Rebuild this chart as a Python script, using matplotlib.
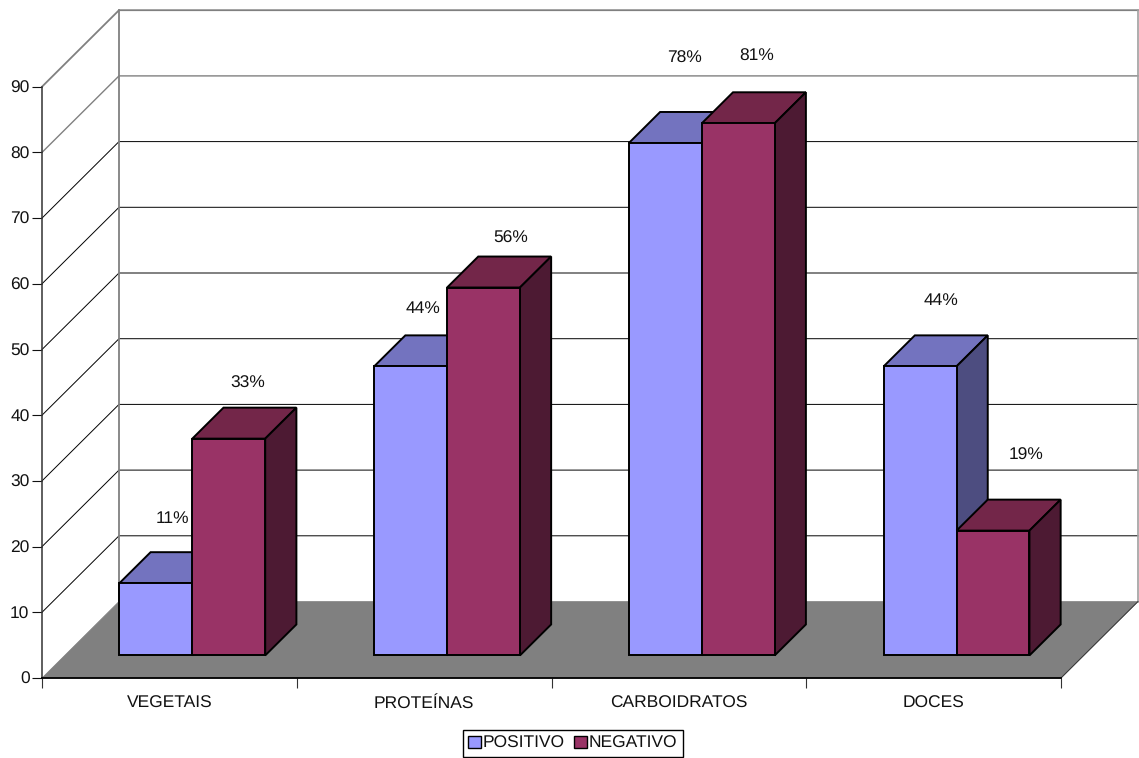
import matplotlib
matplotlib.use("Agg")
import matplotlib.pyplot as plt
from matplotlib.patches import Polygon, Patch

plt.rcParams['font.family'] = ['Liberation Sans', 'DejaVu Sans']
plt.rcParams['text.hinting'] = 'none'

categories = ["VEGETAIS", "PROTEÍNAS", "CARBOIDRATOS", "DOCES"]
positivo = [11, 44, 78, 44]
negativo = [33, 56, 81, 19]
y_ticks = list(range(0, 100, 10))

W, H = 1139, 758
LEFT, RIGHT, BASE, TOP = 42, 1061, 678, 86.7
PX_X = (RIGHT - LEFT) / 4
PX_Y = (BASE - TOP) / 90
DX = 77 / PX_X      # full chart depth, in axis units
DY = 76.5 / PX_Y
BAR_W = 72.9 / PX_X
GAP = 54.7 / PX_X
D0, D1 = 0.295, 0.70  # bar front and back, as fractions of the depth

POS = ("#9999FF", "#7373BF", "#4D4D80")
NEG = ("#993366", "#732649", "#4D1A33")
GREY = "#808080"
FS = 12.5

fig = plt.figure(figsize=(W / 100, H / 100), dpi=100, facecolor="white")
ax = fig.add_axes([LEFT / W, 1 - BASE / H, (RIGHT - LEFT) / W, (BASE - TOP) / H])
ax.set_xlim(0, 4)
ax.set_ylim(0, 90)
ax.patch.set_visible(False)


def proj(x, y, d):
    return (x + d * DX, y + d * DY)


def face(points, color, z, edge="black", lw=1.4):
    ax.add_patch(Polygon(points, closed=True, facecolor=color, edgecolor=edge,
                         linewidth=lw, joinstyle="miter", clip_on=False, zorder=z))


# floor
face([proj(0, 0, 0), proj(4, 0, 0), proj(4, 0, 1), proj(0, 0, 1)], GREY, 1,
     edge=GREY, lw=0.5)
ax.plot(*zip(proj(4, 0, 0), proj(4, 0, 1)), color="#333333", lw=0.7,
        clip_on=False, zorder=1.5)

# walls and gridlines
for v in y_ticks[1:]:
    soft = v >= 80
    col = GREY if soft else "black"
    lw = 1.3 if v == 90 else (1.0 if soft else 0.7)
    ax.plot(*zip(proj(0, v, 0), proj(0, v, 1), proj(4, v, 1)), color=col, lw=lw,
            clip_on=False, zorder=1, solid_joinstyle="miter")
ax.plot(*zip(proj(0, 0, 1), proj(0, 90, 1)), color=GREY, lw=1.3, clip_on=False, zorder=1.2)
ax.plot(*zip(proj(4, 0, 1), proj(4, 90, 1)), color="#A0A0A0", lw=1.2, clip_on=False, zorder=1.2)


def bar(x, v, colors, z):
    front, top, side = colors
    x2 = x + BAR_W
    face([proj(x, v, D0), proj(x2, v, D0), proj(x2, v, D1), proj(x, v, D1)], top, z)
    face([proj(x2, 0, D0), proj(x2, 0, D1), proj(x2, v, D1), proj(x2, v, D0)], side, z)
    face([proj(x, 0, D0), proj(x2, 0, D0), proj(x2, v, D0), proj(x, v, D0)], front, z)


# pixel offsets of each value label from the middle of its bar's top front edge
pos_off = [(16.5, 65), (12.5, 58), (19.5, 84.5), (20.5, 66)]
neg_off = [(19, 55), (27, 49), (18, 67), (33.5, 75)]

for i, (p, n) in enumerate(zip(positivo, negativo)):
    x_p = i + GAP
    x_n = x_p + BAR_W
    bar(x_p, p, POS, 2 + i)
    bar(x_n, n, NEG, 2 + i + 0.5)
    for x, v, off in ((x_p, p, pos_off[i]), (x_n, n, neg_off[i])):
        ax.annotate(f"{v}%", xy=proj(x + BAR_W / 2, v, D0), xytext=(off[0] * 0.72, off[1] * 0.72),
                    textcoords="offset points", ha="center", va="center",
                    fontsize=FS, color="#111111", zorder=10, annotation_clip=False)

# axes
for s in ("top", "right"):
    ax.spines[s].set_visible(False)
ax.spines["left"].set_color("#333333")
ax.spines["left"].set_linewidth(1.1)
ax.spines["bottom"].set_color("black")
ax.spines["bottom"].set_linewidth(1.3)
for s in ax.spines.values():
    s.set_zorder(1.6)

ax.set_yticks(y_ticks)
ax.tick_params(axis="y", length=7.2, width=0.8, pad=1.8, labelsize=FS, colors="#111111")
ax.set_xticks(range(5))
ax.set_xticklabels([])
ax.tick_params(axis="x", which="major", length=7.2, width=0.8, color="#333333")
ax.set_xticks([i + 0.5 for i in range(4)], minor=True)
ax.set_xticklabels(categories, minor=True, va="baseline")
ax.tick_params(axis="x", which="minor", length=0, pad=21.8, labelsize=FS, labelcolor="#111111")

# legend
handles = [Patch(facecolor=POS[0], edgecolor="black", linewidth=1.0, label="POSITIVO"),
           Patch(facecolor=NEG[0], edgecolor="black", linewidth=1.0, label="NEGATIVO")]
fig.legend(handles=handles, loc="center", bbox_to_anchor=(572.8 / W, 1 - 743.5 / H),
           ncol=2, frameon=True, fancybox=False, framealpha=1, edgecolor="black",
           fontsize=FS, handlelength=0.72, handleheight=0.72, handletextpad=0.12,
           columnspacing=0.55, borderpad=0.3, borderaxespad=0,
           labelcolor="#111111").get_frame().set_linewidth(1.0)

fig.savefig("out.png", dpi=100, facecolor="white")
